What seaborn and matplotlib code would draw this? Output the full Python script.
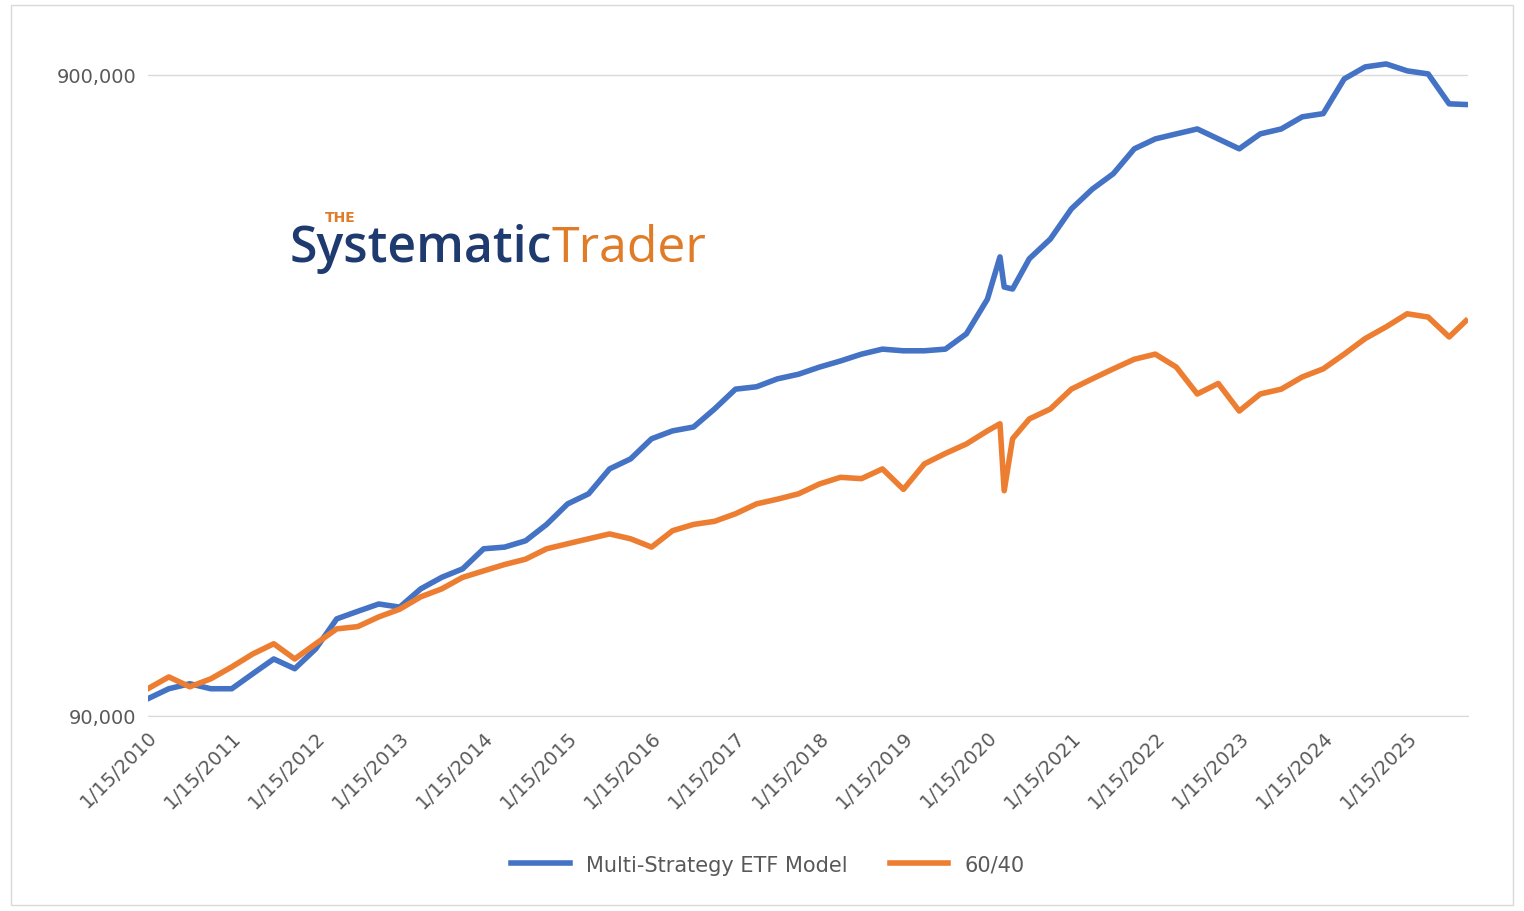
import numpy as np
import pandas as pd
import matplotlib
matplotlib.use("Agg")
import matplotlib.pyplot as plt
from matplotlib.ticker import FixedLocator, FuncFormatter, NullLocator
import seaborn as sns

# approx quarterly readings
years = [2010.0, 2010.25, 2010.5, 2010.75, 2011.0, 2011.25, 2011.5, 2011.75,
         2012.0, 2012.25, 2012.5, 2012.75, 2013.0, 2013.25, 2013.5, 2013.75,
         2014.0, 2014.25, 2014.5, 2014.75, 2015.0, 2015.25, 2015.5, 2015.75,
         2016.0, 2016.25, 2016.5, 2016.75, 2017.0, 2017.25, 2017.5, 2017.75,
         2018.0, 2018.25, 2018.5, 2018.75, 2019.0, 2019.25, 2019.5, 2019.75,
         2020.0, 2020.15, 2020.2, 2020.3, 2020.5, 2020.75, 2021.0, 2021.25,
         2021.5, 2021.75, 2022.0, 2022.25, 2022.5, 2022.75, 2023.0, 2023.25,
         2023.5, 2023.75, 2024.0, 2024.25, 2024.5, 2024.75, 2025.0, 2025.25,
         2025.5, 2025.7]

multi_strategy = [95700, 99200, 101000, 99200, 99200, 104700, 110400, 106600,
                  114500, 127500, 131000, 134500, 133000, 142000, 148000, 152600,
                  164000, 165000, 168800, 179000, 192700, 199800, 218500, 226500,
                  243500, 250500, 254000, 271000, 291000, 293500, 302000, 307000,
                  315000, 322000, 330000, 336000, 334000, 334000, 336000, 355000,
                  402000, 468000, 420000, 417000, 465000, 499000, 556000, 597000,
                  631000, 690000, 715000, 728000, 741000, 715000, 690000, 728000,
                  741000, 774000, 783000, 887000, 926000, 936000, 913000, 903000,
                  811000, 809000]

sixty_forty = [99200, 103500, 99900, 102800, 107300, 112400, 116600, 110400,
               116600, 123000, 124000, 128400, 132000, 138000, 142000, 148000,
               151500, 155000, 158000, 164000, 167000, 170000, 173000, 170000,
               165000, 175000, 179000, 181000, 186000, 192700, 196000, 199800,
               207000, 212000, 211000, 218500, 203000, 222500, 231000, 239000,
               250500, 257000, 202000, 243500, 261500, 271000, 291000, 302000,
               313000, 324000, 330000, 315000, 286000, 297000, 269000, 286000,
               291000, 304000, 313000, 330000, 349000, 364000, 381500, 377000,
               351000, 372000]


def to_date(y):
    return pd.Timestamp("2010-01-15") + pd.Timedelta(days=(y - 2010.0) * 365.25)


dates = [to_date(y) for y in years]
df = pd.concat([
    pd.DataFrame({"date": dates, "value": multi_strategy, "series": "Multi-Strategy ETF Model"}),
    pd.DataFrame({"date": dates, "value": sixty_forty, "series": "60/40"}),
])

fig = plt.figure(figsize=(15.24, 9.12), dpi=100)
ax = fig.add_axes([0.097, 0.214, 0.866, 0.731])
sns.lineplot(data=df, x="date", y="value", hue="series",
             palette=["#4472C4", "#ED7D31"], linewidth=4, ax=ax)

ax.set_yscale("log")
ax.set_ylim(90000, 987000)
ax.yaxis.set_major_locator(FixedLocator([90000, 900000]))
ax.yaxis.set_minor_locator(NullLocator())
ax.yaxis.set_major_formatter(FuncFormatter(lambda v, p: f"{v:,.0f}"))
ax.grid(axis="y", color="#d9d9d9", linewidth=1)

tick_dates = [pd.Timestamp(f"{y}-01-15") for y in range(2010, 2026)]
ax.set_xticks(tick_dates)
ax.set_xticklabels([f"1/15/{y}" for y in range(2010, 2026)], rotation=45,
                   ha="right", rotation_mode="anchor")
ax.set_xlim(pd.Timestamp("2010-01-15"), to_date(2025.72))
ax.tick_params(axis="both", length=0, labelsize=14, colors="#595959", pad=8)
ax.set_xlabel("")
ax.set_ylabel("")
for s in ["top", "right", "left"]:
    ax.spines[s].set_visible(False)
ax.spines["bottom"].set_color("#d9d9d9")

ax.legend(loc="upper center", bbox_to_anchor=(0.47, -0.18), ncol=2,
          frameon=False, fontsize=15, labelcolor="#595959",
          handlelength=2.8, columnspacing=2)

# logo
t1 = fig.text(0.19, 0.713, "Systematic", fontsize=36, color="#1F3A6E",
              family="Open Sans", fontweight="semibold")
fig.canvas.draw()
bb = t1.get_window_extent().transformed(fig.transFigure.inverted())
fig.text(bb.x1, 0.713, "Trader", fontsize=36, color="#E07B27",
         family="Open Sans")
fig.text(0.213, 0.757, "THE", fontsize=10, color="#E07B27", fontweight="bold")

fig.patches.append(plt.Rectangle((0.007, 0.007), 0.986, 0.986, transform=fig.transFigure,
                                 fill=False, edgecolor="#d9d9d9", linewidth=1))

fig.savefig("out.png", dpi=100)
